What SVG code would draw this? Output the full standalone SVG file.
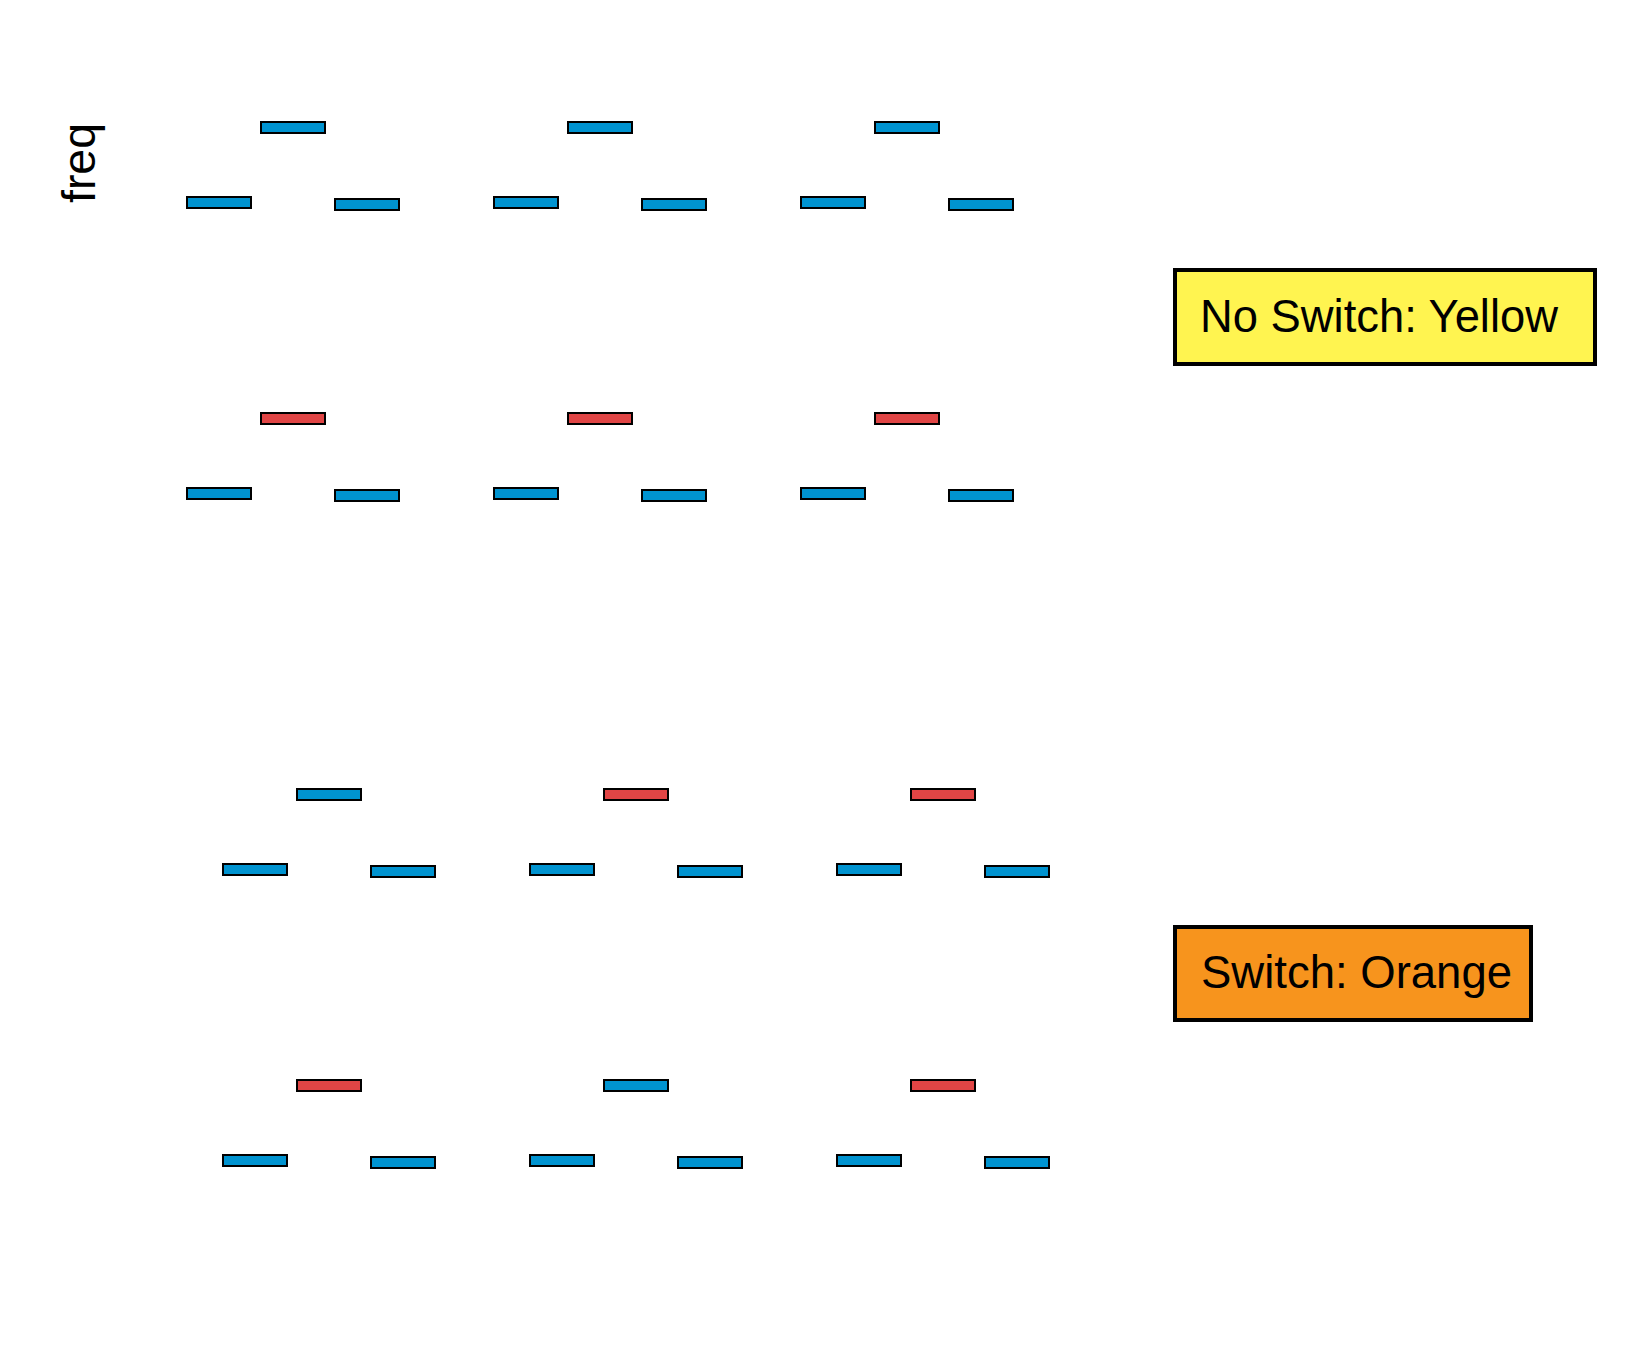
<svg xmlns="http://www.w3.org/2000/svg" width="1633" height="1348" viewBox="0 0 1633 1348">
<style>
.b{fill:#0093d0;stroke:#000;stroke-width:2}
.r{fill:#e04545;stroke:#000;stroke-width:2}
.lbl{font-family:"Liberation Sans",Arial,sans-serif;fill:#000}
</style>
<defs>
<g id="base">
<rect class="b" x="-74" y="75" width="64" height="11"/>
<rect class="b" x="74" y="77" width="64" height="11"/>
</g>
</defs>
<rect width="1633" height="1348" fill="#fff"/>
<text class="lbl" font-size="47" textLength="80" lengthAdjust="spacingAndGlyphs" transform="translate(95,203) rotate(-90)">freq</text>
<g id="group1">
<g id="g1a" transform="translate(261,122)"><rect class="b" x="0" y="0" width="64" height="11"/><use href="#base"/></g>
<g id="g1b" transform="translate(568,122)"><rect class="b" x="0" y="0" width="64" height="11"/><use href="#base"/></g>
<g id="g1c" transform="translate(875,122)"><rect class="b" x="0" y="0" width="64" height="11"/><use href="#base"/></g>
</g>
<g id="group2">
<g id="g2a" transform="translate(261,413)"><rect class="r" x="0" y="0" width="64" height="11"/><use href="#base"/></g>
<g id="g2b" transform="translate(568,413)"><rect class="r" x="0" y="0" width="64" height="11"/><use href="#base"/></g>
<g id="g2c" transform="translate(875,413)"><rect class="r" x="0" y="0" width="64" height="11"/><use href="#base"/></g>
</g>
<g id="group3">
<g id="g3a" transform="translate(297,789)"><rect class="b" x="0" y="0" width="64" height="11"/><use href="#base"/></g>
<g id="g3b" transform="translate(604,789)"><rect class="r" x="0" y="0" width="64" height="11"/><use href="#base"/></g>
<g id="g3c" transform="translate(911,789)"><rect class="r" x="0" y="0" width="64" height="11"/><use href="#base"/></g>
</g>
<g id="group4">
<g id="g4a" transform="translate(297,1080)"><rect class="r" x="0" y="0" width="64" height="11"/><use href="#base"/></g>
<g id="g4b" transform="translate(604,1080)"><rect class="b" x="0" y="0" width="64" height="11"/><use href="#base"/></g>
<g id="g4c" transform="translate(911,1080)"><rect class="r" x="0" y="0" width="64" height="11"/><use href="#base"/></g>
</g>
<g id="legend-noswitch">
<rect x="1175" y="270" width="420" height="94" fill="#fff450" stroke="#000" stroke-width="4"/>
<text class="lbl" x="1200" y="332" font-size="47" textLength="358" lengthAdjust="spacingAndGlyphs">No Switch: Yellow</text>
</g>
<g id="legend-switch">
<rect x="1175" y="927" width="356" height="93" fill="#f7941d" stroke="#000" stroke-width="4"/>
<text class="lbl" x="1201" y="988" font-size="47" textLength="311" lengthAdjust="spacingAndGlyphs">Switch: Orange</text>
</g>
<g id="connectors"/>
</svg>
